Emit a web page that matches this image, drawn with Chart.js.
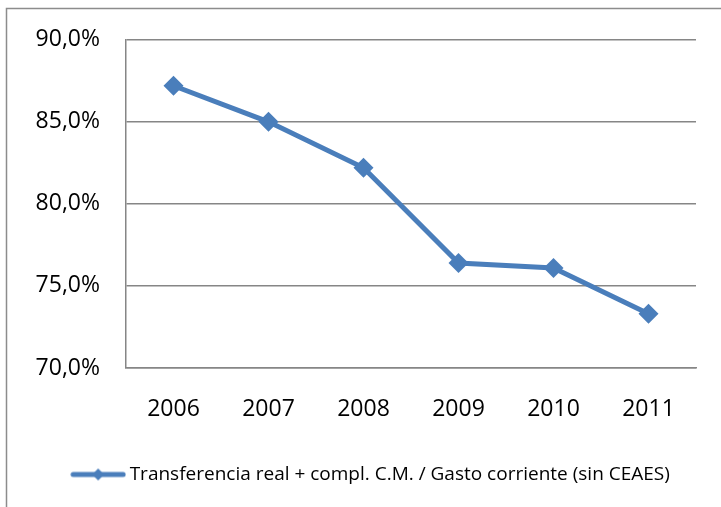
<!DOCTYPE html>
<html>
<head>
<meta charset="utf-8">
<script src="https://cdn.jsdelivr.net/npm/chart.js@4.4.0/dist/chart.umd.min.js"></script>
<style>
  html, body { margin: 0; padding: 0; background: #fff; }
  #wrap { width: 721px; height: 507px; position: relative; }
</style>
</head>
<body>
<div id="wrap"><canvas id="ratioChart"></canvas></div>
<script>
const years = ['2006', '2007', '2008', '2009', '2010', '2011'];
const ratio = [87.2, 85.0, 82.2, 76.4, 76.1, 73.3];
const seriesLabel = 'Transferencia real + compl. C.M. / Gasto corriente (sin CEAES)';
const yTicks = [70, 75, 80, 85, 90];

const blue = '#4A7EBB';
const fontFamily = '"Open Sans", "Noto Sans", sans-serif';

// legend symbol: line with a small diamond in the middle
const legendIcon = document.createElement('canvas');
legendIcon.width = 56;
legendIcon.height = 14;
(function () {
    const c = legendIcon.getContext('2d');
    c.strokeStyle = blue;
    c.lineWidth = 5;
    c.lineCap = 'round';
    c.beginPath();
    c.moveTo(3, 7);
    c.lineTo(53, 7);
    c.stroke();
    c.fillStyle = blue;
    c.beginPath();
    c.moveTo(28, 1);
    c.lineTo(34, 7);
    c.lineTo(28, 13);
    c.lineTo(22, 7);
    c.closePath();
    c.fill();
})();

// outer frame of the chart box
const framePlugin = {
    id: 'frame',
    beforeDraw(chart) {
        const c = chart.ctx;
        c.save();
        c.strokeStyle = '#8c8c8c';
        c.lineWidth = 1.5;
        c.strokeRect(6.5, 8.5, 740, 520);
        c.restore();
    }
};

// nudge the legend a little to the right, like the original
const legendShift = {
    id: 'legendShift',
    afterLayout(chart) {
        chart.legend.left += 10;
        chart.legend.right += 10;
    }
};

const ctx = document.getElementById('ratioChart').getContext('2d');
const ratioChart = new Chart(ctx, {
    type: 'line',
    data: {
        labels: years,
        datasets: [{
            label: seriesLabel,
            data: ratio,
            borderColor: blue,
            backgroundColor: blue,
            borderWidth: 5,
            pointStyle: 'rectRot',
            pointRadius: 10,
            pointHoverRadius: 10,
            pointBorderWidth: 0,
            fill: false,
            tension: 0
        }]
    },
    plugins: [framePlugin, legendShift],
    options: {
        responsive: true,
        maintainAspectRatio: false,
        animation: false,
        layout: {
            padding: { left: 30, right: 25, top: 37, bottom: 13 }
        },
        plugins: {
            legend: {
                position: 'bottom',
                labels: {
                    usePointStyle: true,
                    pointStyleWidth: 44,
                    color: '#000',
                    font: { family: fontFamily, size: 19 },
                    padding: 10,
                    generateLabels(chart) {
                        return [{
                            text: seriesLabel,
                            pointStyle: legendIcon,
                            fillStyle: blue,
                            strokeStyle: blue,
                            lineWidth: 0,
                            datasetIndex: 0
                        }];
                    }
                }
            },
            tooltip: { enabled: false }
        },
        scales: {
            x: {
                offset: true,
                grid: { display: false, drawTicks: false },
                border: { display: true, color: '#868686', width: 1.5 },
                ticks: {
                    color: '#000',
                    font: { family: fontFamily, size: 23 },
                    padding: 28
                },
                afterFit(scale) { scale.height = 87; }
            },
            y: {
                min: 70,
                max: 90,
                afterBuildTicks(scale) {
                    scale.ticks = yTicks.map(v => ({ value: v }));
                },
                grid: { color: '#868686', lineWidth: 1.5, drawTicks: false },
                border: { display: true, color: '#868686', width: 1.5 },
                ticks: {
                    color: '#000',
                    font: { family: fontFamily, size: 23 },
                    padding: 26,
                    callback: v => v.toFixed(1).replace('.', ',') + '%'
                },
                afterFit(scale) { scale.width = 96; }
            }
        }
    }
});
</script>
</body>
</html>
